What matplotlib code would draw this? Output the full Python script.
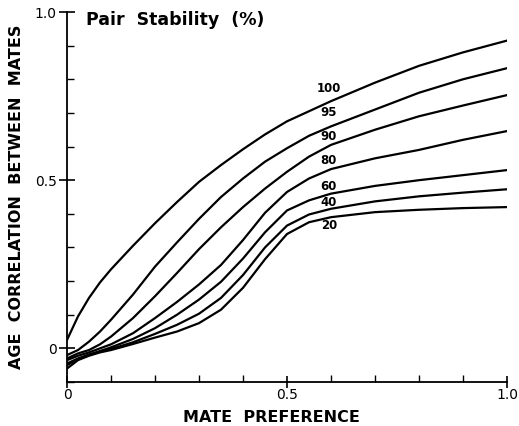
import matplotlib.pyplot as plt
import numpy as np
from matplotlib.ticker import FixedLocator, MultipleLocator

# mate preference (x) and age correlation (y) for each pair-stability level
mate_pref = [0, 0.025, 0.05, 0.075, 0.1, 0.15, 0.2, 0.25, 0.3, 0.35, 0.4, 0.45,
             0.5, 0.55, 0.6, 0.7, 0.8, 0.9, 1.0]

stab_100 = [0.025, 0.095, 0.15, 0.196, 0.235, 0.305, 0.372, 0.435, 0.495, 0.545, 0.592, 0.636,
            0.675, 0.705, 0.735, 0.79, 0.84, 0.88, 0.915]
stab_95 = [-0.02, -0.005, 0.02, 0.05, 0.085, 0.16, 0.243, 0.315, 0.385, 0.45, 0.505, 0.555,
           0.595, 0.632, 0.66, 0.71, 0.76, 0.80, 0.833]
stab_90 = [-0.03, -0.015, -0.005, 0.012, 0.035, 0.09, 0.155, 0.224, 0.295, 0.36, 0.42, 0.475,
           0.525, 0.57, 0.605, 0.65, 0.69, 0.722, 0.753]
stab_80 = [-0.035, -0.022, -0.012, 0.0, 0.012, 0.045, 0.09, 0.138, 0.19, 0.248, 0.322, 0.403,
           0.465, 0.505, 0.533, 0.565, 0.59, 0.62, 0.646]
stab_60 = [-0.045, -0.03, -0.018, -0.008, 0.003, 0.028, 0.06, 0.10, 0.145, 0.198, 0.267, 0.345,
           0.41, 0.44, 0.46, 0.483, 0.50, 0.515, 0.53]
stab_40 = [-0.05, -0.032, -0.02, -0.01, -0.002, 0.018, 0.043, 0.07, 0.103, 0.15, 0.218, 0.30,
           0.365, 0.398, 0.415, 0.437, 0.452, 0.463, 0.473]
stab_20 = [-0.06, -0.035, -0.022, -0.012, -0.005, 0.013, 0.032, 0.05, 0.075, 0.115, 0.18, 0.265,
           0.34, 0.375, 0.39, 0.405, 0.412, 0.417, 0.42]

curves = [stab_100, stab_95, stab_90, stab_80, stab_60, stab_40, stab_20]
labels = ["100", "95", "90", "80", "60", "40", "20"]
label_y = [0.774, 0.70, 0.631, 0.56, 0.482, 0.435, 0.364]
label_x = 0.595

fig = plt.figure(figsize=(5.19, 4.26), dpi=100)
ax = fig.add_axes([0.1291, 0.1033, 0.8478, 0.8685])

for ys in curves:
    ax.plot(mate_pref, ys, color="black", lw=1.6, solid_joinstyle="round")

for lab, ly in zip(labels, label_y):
    ax.text(label_x, ly, lab, fontsize=8.5, fontweight="bold", ha="center", va="center")

ax.text(0.044, 0.975, "Pair  Stability  (%)", fontsize=12.5, fontweight="bold",
        ha="left", va="center")

ax.set_xlim(0, 1.0)
ax.set_ylim(-0.1, 1.0)
for s in ["top", "right"]:
    ax.spines[s].set_visible(False)
for s in ["left", "bottom"]:
    ax.spines[s].set_linewidth(1.3)

ax.xaxis.set_major_locator(FixedLocator([0, 0.5, 1.0]))
ax.yaxis.set_major_locator(FixedLocator([0, 0.5, 1.0]))
ax.xaxis.set_minor_locator(MultipleLocator(0.1))
ax.yaxis.set_minor_locator(MultipleLocator(0.1))
ax.set_xticklabels(["0", "0.5", "1.0"])
ax.set_yticklabels(["0", "0.5", "1.0"])

ax.tick_params(which="major", direction="inout", length=11, width=1.2,
               labelsize=10, pad=2)
ax.tick_params(which="minor", direction="in", length=5, width=1.0)
ax.tick_params(axis="x", which="major", length=9, pad=0)

ax.set_ylabel("AGE  CORRELATION  BETWEEN  MATES", fontsize=11.5, fontweight="bold")
ax.yaxis.set_label_coords(-0.098, 0.5)
ax.set_xlabel("MATE  PREFERENCE", fontsize=11.5, fontweight="bold", va="center")
ax.xaxis.set_label_coords(0.465, -0.097)

fig.savefig("out.png", dpi=100)
